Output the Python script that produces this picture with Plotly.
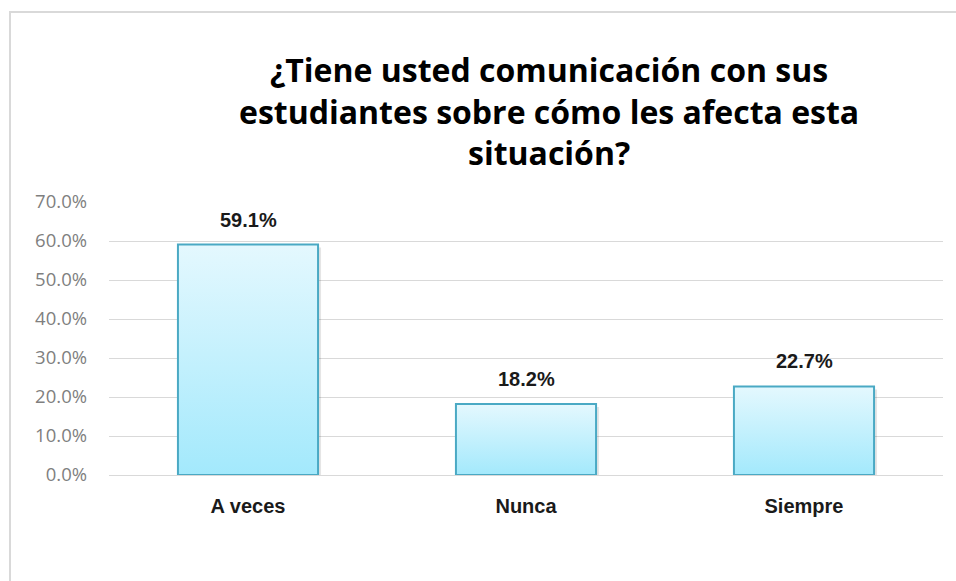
import plotly.graph_objects as go

# Survey answers and their shares
categories = ["A veces", "Nunca", "Siempre"]
shares = [0.591, 0.182, 0.227]
y_ticks = [0.0, 0.1, 0.2, 0.3, 0.4, 0.5, 0.6, 0.7]
title_text = "¿Tiene usted comunicación con sus<br>estudiantes sobre cómo les afecta esta<br>situación?"

W, H = 956, 581
x0_px, x1_px = 109, 943
y_bot_px, y_top_px = 475, 202
half_w = 0.252  # half bar width, in category units

outline = "#4aa9c4"
label_font = dict(family="Liberation Sans", size=20, color="#1a1a1a", weight="bold")
fig = go.Figure()

# soft drop shadow behind each bar
dx = 3 / ((x1_px - x0_px) / len(categories))
dy = 3 / ((y_bot_px - y_top_px) / 0.7)
for i, v in enumerate(shares):
    fig.add_trace(go.Scatter(
        x=[i - half_w + dx, i + half_w + dx, i + half_w + dx, i - half_w + dx, i - half_w + dx],
        y=[-dy, -dy, v - dy, v - dy, -dy],
        fill="toself", fillcolor="rgba(0,0,0,0.10)",
        line=dict(width=0), mode="lines", hoverinfo="skip", showlegend=False,
        cliponaxis=False,
    ))

# bars with a vertical gradient fill
for i, v in enumerate(shares):
    fig.add_trace(go.Scatter(
        x=[i - half_w, i + half_w, i + half_w, i - half_w, i - half_w],
        y=[0, 0, v, v, 0],
        fill="toself",
        fillgradient=dict(type="vertical",
                          colorscale=[[0, "#a3e9fc"], [1, "#e4f8fe"]]),
        line=dict(color=outline, width=2),
        mode="lines", showlegend=False, name=categories[i],
        cliponaxis=False,
    ))

# value labels above the bars
value_labels = [dict(
    x=i, y=v, xref="x", yref="y", text=f"{v*100:.1f}%",
    showarrow=False, xanchor="center", yanchor="bottom", yshift=12,
    font=label_font,
) for i, v in enumerate(shares)]

title = dict(
    text=title_text, x=549 / W, y=1 - 111 / H,
    xref="paper", yref="paper", xanchor="center", yanchor="middle",
    showarrow=False, align="center",
    font=dict(family="Open Sans", size=32, color="#000000", weight="bold"),
)

fig.update_layout(
    width=W, height=H,
    margin=dict(l=0, r=0, t=0, b=0),
    paper_bgcolor="white", plot_bgcolor="white",
    xaxis=dict(
        domain=[x0_px / W, x1_px / W],
        range=[-0.5, len(categories) - 0.5],
        tickvals=list(range(len(categories))), ticktext=categories,
        tickfont=label_font,
        showgrid=False, zeroline=False, showline=False,
        ticks="", ticklabelstandoff=17, automargin=False,
    ),
    yaxis=dict(
        domain=[1 - y_bot_px / H, 1 - y_top_px / H],
        range=[0, 0.7], tickvals=y_ticks, tickformat=".1%",
        tickfont=dict(family="Open Sans", size=18.5, color="#7f7f7f"),
        showgrid=True, gridcolor="#d9d9d9", gridwidth=1,
        zeroline=True, zerolinecolor="#d9d9d9", zerolinewidth=1,
        showline=False, ticks="", ticklabelstandoff=21, automargin=False,
    ),
    annotations=value_labels + [title],
    shapes=[dict(
        type="rect", xref="paper", yref="paper",
        x0=10 / W, x1=1.02, y0=-0.02, y1=1 - 12 / H,
        line=dict(color="#d9d9d9", width=2), layer="below",
    )],
)

fig.write_html("out.html")
